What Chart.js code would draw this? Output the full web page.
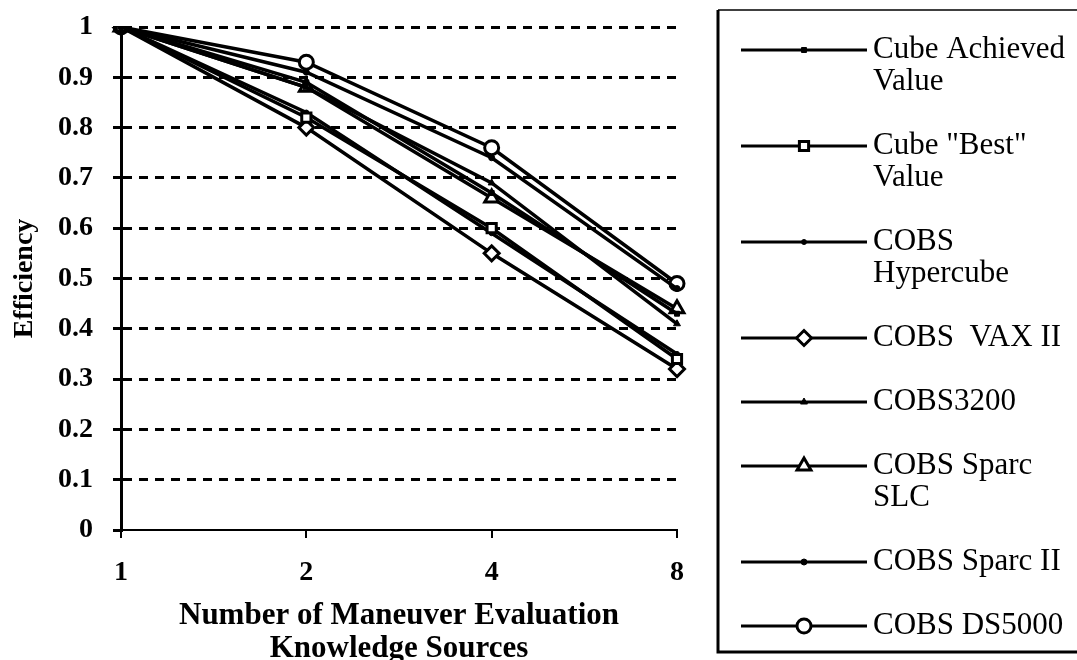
<!DOCTYPE html>
<html>
<head>
<meta charset="utf-8">
<script src="https://cdn.jsdelivr.net/npm/chart.js@4/dist/chart.umd.min.js"></script>
<style>
  body { margin: 0; background: #fff; }
  #canvas { display: block; }
</style>
</head>
<body>
<canvas id="canvas" width="1077" height="660"></canvas>
<script>
const sources = ["1", "2", "4", "8"];

const cubeAchieved = [1, 0.89, 0.67, 0.43];
const cubeBest = [1, 0.82, 0.6, 0.34];
const cobsHypercube = [1, 0.83, 0.59, 0.35];
const cobsVax = [1, 0.8, 0.55, 0.32];
const cobs3200 = [1, 0.88, 0.69, 0.41];
const cobsSparcSlc = [1, 0.88, 0.66, 0.44];
const cobsSparcII = [1, 0.91, 0.74, 0.48];
const cobsDs5000 = [1, 0.93, 0.76, 0.49];

const legendLines = [
    ["Cube Achieved", "Value"],
    ['Cube "Best"', "Value"],
    ["COBS", "Hypercube"],
    ["COBS  VAX II"],
    ["COBS3200"],
    ["COBS Sparc", "SLC"],
    ["COBS Sparc II"],
    ["COBS DS5000"]
];

const serif = "'Liberation Serif', 'DejaVu Serif', serif";

// marker looks: small filled or larger open (white fill)
const markers = [
    { style: "rect", radius: 3.5, open: false },
    { style: "rect", radius: 6.5, open: true },
    { style: "circle", radius: 2.5, open: false },
    { style: "rectRot", radius: 7.5, open: true },
    { style: "triangle", radius: 4, open: false },
    { style: "triangle", radius: 8, open: true },
    { style: "circle", radius: 3, open: false },
    { style: "circle", radius: 7, open: true }
];

const series = [cubeAchieved, cubeBest, cobsHypercube, cobsVax, cobs3200, cobsSparcSlc, cobsSparcII, cobsDs5000];

const datasets = series.map((data, i) => ({
    label: legendLines[i].join(" "),
    data,
    borderColor: "#000",
    borderWidth: 3.5,
    backgroundColor: markers[i].open ? "#fff" : "#000",
    pointStyle: markers[i].style,
    pointRadius: markers[i].radius,
    pointBorderWidth: markers[i].open ? 3 : 1,
    pointBorderColor: "#000",
    pointBackgroundColor: markers[i].open ? "#fff" : "#000",
    tension: 0
}));

const boxLegend = {
    id: "boxLegend",
    afterDraw(chart) {
        const ctx = chart.ctx;
        ctx.save();
        ctx.strokeStyle = "#000";
        // box
        ctx.lineWidth = 1.5;
        ctx.beginPath();
        ctx.moveTo(718, 10);
        ctx.lineTo(1080, 10);
        ctx.stroke();
        ctx.lineWidth = 3;
        ctx.beginPath();
        ctx.moveTo(718, 10);
        ctx.lineTo(718, 652);
        ctx.lineTo(1080, 652);
        ctx.stroke();

        ctx.font = "31px " + serif;
        ctx.textBaseline = "middle";
        ctx.fillStyle = "#000";
        let y = 50;
        chart.data.datasets.forEach((ds, i) => {
            ctx.lineWidth = 3;
            ctx.beginPath();
            ctx.moveTo(741, y);
            ctx.lineTo(867, y);
            ctx.stroke();
            ctx.fillStyle = ds.pointBackgroundColor;
            ctx.lineWidth = ds.pointBorderWidth;
            Chart.helpers.drawPoint(ctx, {
                pointStyle: ds.pointStyle,
                radius: ds.pointRadius,
                borderWidth: ds.pointBorderWidth,
                rotation: 0
            }, 804, y);
            ctx.fillStyle = "#000";
            legendLines[i].forEach((line, j) => {
                ctx.fillText(line, 873, y + j * 32);
            });
            y += legendLines[i].length * 32 + 32;
        });
        ctx.restore();
    }
};

new Chart(document.getElementById("canvas"), {
    type: "line",
    data: { labels: sources, datasets },
    plugins: [boxLegend],
    options: {
        responsive: false,
        animation: false,
        devicePixelRatio: 1,
        layout: { padding: { top: 27, right: 400, left: 6, bottom: 0 } },
        plugins: {
            legend: { display: false },
            tooltip: { enabled: false }
        },
        scales: {
            x: {
                type: "category",
                offset: false,
                afterFit: (scale) => { scale.height = 130; },
                border: { color: "#000", width: 2 },
                grid: {
                    drawOnChartArea: false,
                    drawTicks: true,
                    tickLength: 8,
                    color: "#000",
                    lineWidth: 2
                },
                ticks: {
                    color: "#000",
                    padding: 18,
                    maxRotation: 0,
                    font: { family: serif, size: 28, weight: "bold" }
                },
                title: {
                    display: true,
                    text: ["Number of Maneuver Evaluation", "Knowledge Sources"],
                    color: "#000",
                    padding: { top: 12, bottom: -5 },
                    font: { family: serif, size: 31, weight: "bold", lineHeight: 1.05 }
                }
            },
            y: {
                min: 0,
                max: 1,
                afterFit: (scale) => {
                    scale.width = 115;
                    scale.paddingTop = 0;
                    scale.paddingBottom = 0;
                },
                border: { color: "#000", width: 3, dash: [9, 7] },
                grid: {
                    color: (c) => (c.tick && c.tick.value === 0 ? "rgba(0,0,0,0)" : "#000"),
                    tickColor: "#000",
                    lineWidth: 3,
                    tickLength: 8,
                    tickBorderDash: [],
                    drawTicks: true
                },
                ticks: {
                    stepSize: 0.1,
                    color: "#000",
                    padding: 20,
                    callback: (v) => String(Number(v.toFixed(1))),
                    font: { family: serif, size: 28, weight: "bold" }
                },
                title: {
                    display: true,
                    text: "Efficiency",
                    color: "#000",
                    padding: { top: 2, bottom: 0 },
                    font: { family: serif, size: 28, weight: "bold" }
                }
            }
        }
    }
});
</script>
</body>
</html>
